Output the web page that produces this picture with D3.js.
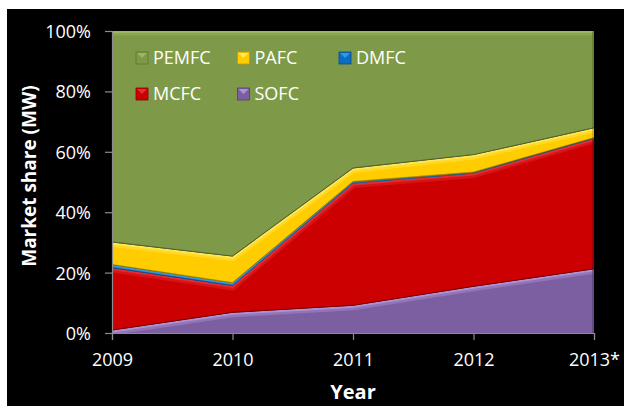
<!DOCTYPE html>
<html>
<head>
<meta charset="utf-8">
<script src="https://cdn.jsdelivr.net/npm/d3@7"></script>
<style>
  html, body { margin: 0; padding: 0; background: #ffffff; }
  svg { display: block; }
  text { font-family: "Open Sans", "Liberation Sans", sans-serif; fill: #ffffff; }
</style>
</head>
<body>
<svg id="chart" width="624" height="406"></svg>
<script>
// Fuel cell market share by technology (percent of MW shipped)
const years = ["2009", "2010", "2011", "2012", "2013*"];
const sofc  = [0.8, 6.7, 9.0, 15.3, 21.1];
const mcfc  = [20.7, 8.9, 40.5, 37.5, 43.2];
const dmfc  = [1.0, 0.9, 0.5, 0.3, 0.2];
const pafc  = [7.5, 8.8, 4.5, 5.8, 3.3];
const pemfc = [70.0, 74.7, 45.5, 41.1, 32.2];

// stacking order, bottom to top
const stackKeys = ["SOFC", "MCFC", "DMFC", "PAFC", "PEMFC"];
const legendRows = [["PEMFC", "PAFC", "DMFC"], ["MCFC", "SOFC"]];
const yTickValues = [0, 20, 40, 60, 80, 100];

const colors = {
  PEMFC: { fill: "#7e9a48", light: "#a9c46a", dark: "#5c7330" },
  PAFC:  { fill: "#ffcc00", light: "#fff27a", dark: "#c79a00" },
  DMFC:  { fill: "#0a6fc2", light: "#4aa6ee", dark: "#064d88" },
  MCFC:  { fill: "#cc0000", light: "#f0404a", dark: "#8a0000" },
  SOFC:  { fill: "#7c5fa0", light: "#c2a9ec", dark: "#553c74" }
};

const rows = years.map((y, i) => ({
  year: y, SOFC: sofc[i], MCFC: mcfc[i], DMFC: dmfc[i], PAFC: pafc[i], PEMFC: pemfc[i]
}));

const svg = d3.select("#chart");
const W = 624, H = 406;
const plot = { left: 112, right: 594, top: 31, bottom: 333 };

// dark backdrop
svg.append("rect").attr("x", 7).attr("y", 9).attr("width", W - 7).attr("height", H - 9)
  .attr("fill", "#000000");

const x = d3.scalePoint().domain(years).range([plot.left, plot.right]);
const y = d3.scaleLinear().domain([0, 100]).range([plot.bottom, plot.top]);

const stacked = d3.stack().keys(stackKeys)(rows);

const area = d3.area()
  .x(d => x(d.data.year))
  .y0(d => y(d[0]))
  .y1(d => y(d[1]));

const topLine = d3.line()
  .x(d => x(d.data.year))
  .y(d => y(d[1]));

const defs = svg.append("defs");
const g = svg.append("g");

stacked.forEach(s => {
  const c = colors[s.key];
  const id = "clip-" + s.key;
  defs.append("clipPath").attr("id", id)
    .append("path").attr("d", area(s));

  g.append("path").attr("d", area(s)).attr("fill", c.fill);

  // bevel highlight just inside the upper edge
  const bevel = g.append("g").attr("clip-path", `url(#${id})`);
  bevel.append("path").attr("d", topLine(s))
    .attr("fill", "none").attr("stroke", c.light)
    .attr("stroke-width", 9).attr("stroke-opacity", 0.3);
  bevel.append("path").attr("d", topLine(s))
    .attr("fill", "none").attr("stroke", c.light)
    .attr("stroke-width", 4).attr("stroke-opacity", 0.55);
  // darker right edge
  bevel.append("line")
    .attr("x1", plot.right).attr("x2", plot.right)
    .attr("y1", plot.top).attr("y2", plot.bottom)
    .attr("stroke", c.dark).attr("stroke-width", 4).attr("stroke-opacity", 0.6);
});

// thin shadow lines along each boundary
stacked.forEach(s => {
  if (s.key === "PEMFC") return;
  g.append("path").attr("d", topLine(s))
    .attr("fill", "none").attr("stroke", "#000000")
    .attr("stroke-width", 1).attr("stroke-opacity", 0.35)
    .attr("transform", "translate(0,-0.5)");
});

// axes
const yAxis = g.append("g").attr("transform", `translate(${plot.left},0)`)
  .call(d3.axisLeft(y).tickValues(yTickValues).tickFormat(d => d + "%").tickSize(7).tickPadding(14));
const xAxis = g.append("g").attr("transform", `translate(0,${plot.bottom})`)
  .call(d3.axisBottom(x).tickSize(7).tickPadding(10));

[yAxis, xAxis].forEach(a => {
  a.select(".domain").attr("stroke", "#8c8c8c").attr("stroke-width", 1.2);
  a.selectAll(".tick line").attr("stroke", "#8c8c8c").attr("stroke-width", 1.2);
  a.selectAll(".tick text").attr("fill", "#ffffff")
    .style("font-family", "'Open Sans', 'Liberation Sans', sans-serif")
    .style("font-size", "18px");
});
yAxis.selectAll(".tick text").attr("dy", "0.36em");
xAxis.selectAll(".tick text").attr("dy", "0.9em");

// axis titles
svg.append("text")
  .attr("transform", "translate(36,176) rotate(-90)")
  .attr("text-anchor", "middle")
  .style("font-size", "19px").style("font-weight", "bold")
  .text("Market share (MW)");

svg.append("text")
  .attr("x", 353).attr("y", 399)
  .attr("text-anchor", "middle")
  .style("font-size", "20px").style("font-weight", "bold")
  .text("Year");

// legend
const legend = svg.append("g");
legendRows.forEach((row, r) => {
  row.forEach((key, cIdx) => {
    const c = colors[key];
    const lx = 136 + cIdx * 101.5;
    const ly = 52 + r * 36;
    const item = legend.append("g").attr("transform", `translate(${lx},${ly})`);
    item.append("rect").attr("width", 12).attr("height", 12)
      .attr("fill", c.fill).attr("stroke", c.dark).attr("stroke-width", 0.8);
    item.append("path").attr("d", "M1,1 L11,1 L6,6 Z").attr("fill", c.light).attr("opacity", 0.7);
    item.append("text").attr("x", 17).attr("y", 12)
      .style("font-size", "18px")
      .text(key);
  });
});
</script>
</body>
</html>
